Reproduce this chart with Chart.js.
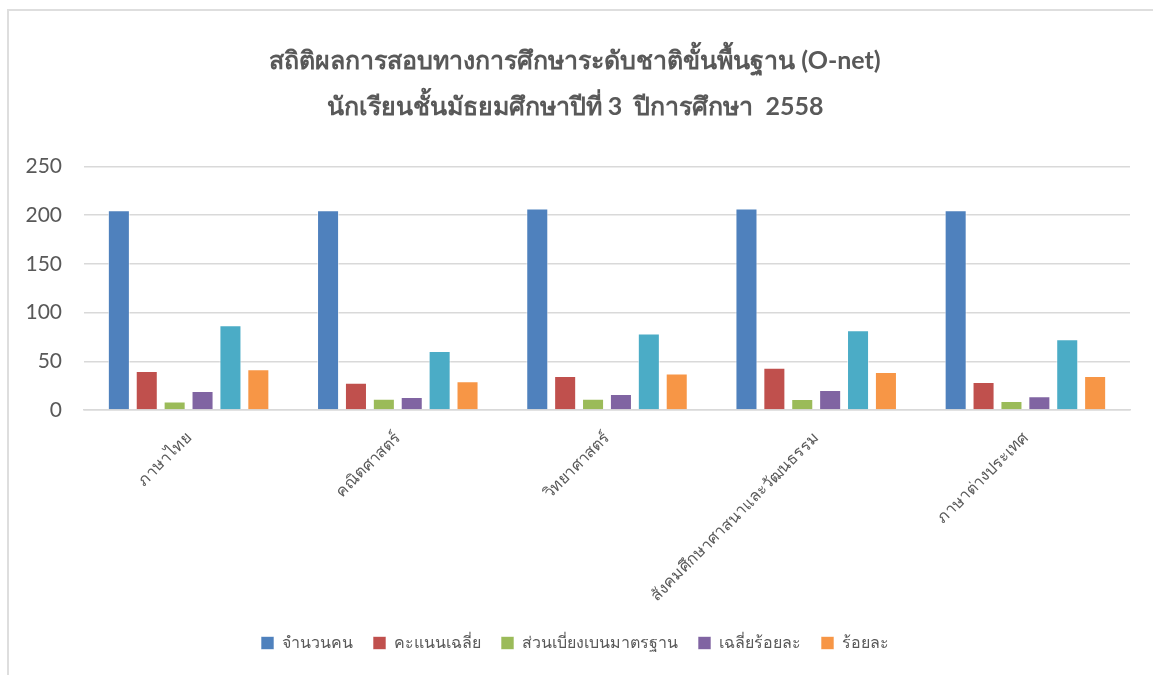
<!DOCTYPE html>
<html>
<head>
<meta charset="utf-8">
<script src="https://cdn.jsdelivr.net/npm/chart.js@4"></script>
<style>
    body { margin: 0; background: #fff; }
    #frame {
        position: absolute; left: 7px; top: 9px; width: 1146px; height: 666px;
        border-left: 2px solid #dedede; border-top: 2px solid #dedede;
        box-sizing: border-box;
    }
    #wrap { position: absolute; left: 0; top: 0; width: 1153px; height: 675px; }
</style>
</head>
<body>
<div id="frame"></div>
<div id="wrap"><canvas id="onetChart"></canvas></div>
<script>
const subjects = ['ภาษาไทย', 'คณิตศาสตร์', 'วิทยาศาสตร์', 'สังคมศึกษาศาสนาและวัฒนธรรม', 'ภาษาต่างประเทศ'];

// ค่าของแต่ละชุดข้อมูล
const students = [205, 205, 207, 207, 205];
const avgScore = [40.1, 28.1, 35.0, 43.5, 28.8];
const stdDev = [8.6, 11.6, 11.6, 11.3, 9.3];
const avgPercent = [19.5, 13.4, 16.5, 20.6, 14.1];
const unnamed = [87.1, 60.7, 78.5, 82.0, 72.7];
const percent = [41.9, 29.5, 37.4, 39.1, 35.0];

const seriesNames = ['จำนวนคน', 'คะแนนเฉลี่ย', 'ส่วนเบี่ยงเบนมาตรฐาน', 'เฉลี่ยร้อยละ', '', 'ร้อยละ'];
const seriesValues = [students, avgScore, stdDev, avgPercent, unnamed, percent];
const seriesColors = ['#4f81bd', '#c0504d', '#9bbb59', '#8064a2', '#4bacc6', '#f79646'];

const titleLines = ['สถิติผลการสอบทางการศึกษาระดับชาติขั้นพื้นฐาน (O-net)', 'นักเรียนชั้นมัธยมศึกษาปีที่ 3  ปีการศึกษา  2558'];
const yTicks = [0, 50, 100, 150, 200, 250];

const textColor = '#595959';
const gridColor = '#d9d9d9';
const fontFamily = 'Lato, "Noto Sans", sans-serif';

const ctx = document.getElementById('onetChart').getContext('2d');

new Chart(ctx, {
    type: 'bar',
    data: {
        labels: subjects,
        datasets: seriesValues.map((vals, i) => ({
            label: seriesNames[i],
            data: vals,
            backgroundColor: seriesColors[i],
            borderColor: 'rgba(255,255,255,0.6)',
            borderWidth: 1,
            categoryPercentage: 0.8,
            barPercentage: 0.79
        }))
    },
    options: {
        responsive: true,
        maintainAspectRatio: false,
        animation: false,
        layout: {
            padding: { left: 20, right: 23, top: 0, bottom: 14 }
        },
        plugins: {
            title: {
                display: true,
                text: titleLines,
                color: textColor,
                font: { family: fontFamily, size: 25, weight: 'bold', lineHeight: 1.85 },
                padding: { top: 38, bottom: 36 }
            },
            legend: {
                position: 'bottom',
                labels: {
                    color: textColor,
                    font: { family: fontFamily, size: 16 },
                    boxWidth: 13,
                    boxHeight: 13,
                    padding: 20,
                    filter: (item) => item.text !== ''
                }
            },
            tooltip: { enabled: false }
        },
        scales: {
            y: {
                min: 0,
                max: 250,
                afterBuildTicks: (axis) => { axis.ticks = yTicks.map(v => ({ value: v })); },
                afterFit: (axis) => { axis.width = 64; },
                ticks: {
                    color: textColor,
                    font: { family: fontFamily, size: 21 },
                    padding: 22
                },
                grid: { color: gridColor, lineWidth: 1.5, drawTicks: false },
                border: { display: false }
            },
            x: {
                afterFit: (axis) => {
                    axis.height = 205;
                    axis.paddingLeft = 0;
                    axis.paddingRight = 0;
                },
                ticks: {
                    color: textColor,
                    font: { family: fontFamily, size: 16 },
                    minRotation: 45,
                    maxRotation: 45,
                    padding: 10
                },
                grid: { display: false },
                border: { color: gridColor, width: 1.5 }
            }
        }
    }
});
</script>
</body>
</html>
